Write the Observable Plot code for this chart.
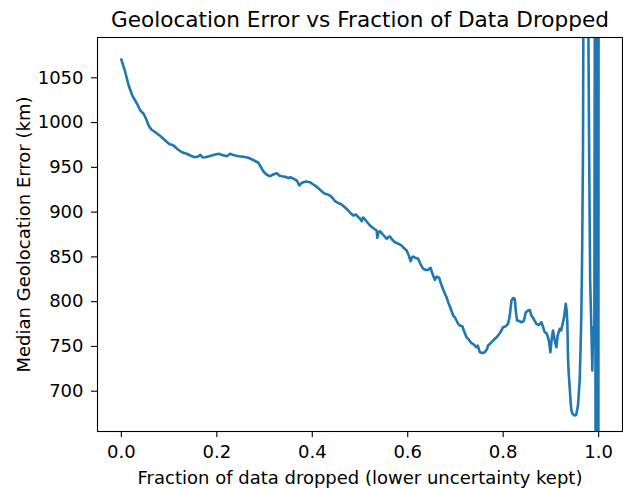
<!DOCTYPE html>
<html>
<head>
<meta charset="utf-8">
<script src="https://cdn.jsdelivr.net/npm/d3@7"></script>
<script src="https://cdn.jsdelivr.net/npm/@observablehq/plot@0.6"></script>
<style>
  body { margin: 0; background: #fff; }
  #chart svg { display: block; }
</style>
</head>
<body>
<div id="chart"></div>
<script>
const titleText = "Geolocation Error vs Fraction of Data Dropped";
const xLabel = "Fraction of data dropped (lower uncertainty kept)";
const yLabel = "Median Geolocation Error (km)";
const xTicks = [0, 0.2, 0.4, 0.6, 0.8, 1.0];
const yTicks = [700, 750, 800, 850, 900, 950, 1000, 1050];

const fraction = [
  0, 0.0073, 0.0153, 0.023, 0.0328, 0.0397, 0.0467, 0.0523, 0.0571, 0.0628,
  0.0711, 0.0816, 0.092, 0.1004, 0.1094, 0.1172, 0.127, 0.1381, 0.1464, 0.1548,
  0.1611, 0.1653, 0.1705, 0.1757, 0.1862, 0.1946, 0.2036, 0.2113, 0.2211, 0.228,
  0.2364, 0.2454, 0.2552, 0.2663, 0.2762, 0.2872, 0.2929, 0.2977, 0.3054, 0.3117,
  0.318, 0.3257, 0.3305, 0.3362, 0.3431, 0.35, 0.3536, 0.3598, 0.3676, 0.373,
  0.3766, 0.3814, 0.387, 0.3954, 0.4006, 0.4059, 0.4111, 0.4163, 0.4215, 0.4268,
  0.432, 0.4372, 0.4425, 0.4477, 0.454, 0.4617, 0.4686, 0.4755, 0.4812, 0.486,
  0.4916, 0.4964, 0.5, 0.5036, 0.5063, 0.5105, 0.5157, 0.5209, 0.5272, 0.5349,
  0.5362, 0.5387, 0.5418, 0.5481, 0.5559, 0.5596, 0.5628, 0.568, 0.5732, 0.5795,
  0.5872, 0.592, 0.5977, 0.6014, 0.606, 0.6088, 0.6115, 0.6172, 0.622, 0.6266,
  0.6324, 0.6381, 0.6429, 0.6479, 0.6517, 0.6569, 0.6611, 0.6659, 0.6695, 0.6743,
  0.6778, 0.6814, 0.6847, 0.6883, 0.6952, 0.6987, 0.7056, 0.7092, 0.7148, 0.716,
  0.7232, 0.7265, 0.7337, 0.737, 0.7441, 0.7469, 0.751, 0.7563, 0.7615, 0.7657,
  0.7684, 0.773, 0.7789, 0.7845, 0.7893, 0.7939, 0.7998, 0.8044, 0.8103, 0.8138,
  0.8174, 0.8211, 0.8243, 0.8264, 0.8291, 0.8337, 0.8383, 0.8431, 0.8473, 0.8521,
  0.8556, 0.8592, 0.864, 0.8697, 0.8745, 0.8801, 0.8839, 0.887, 0.8912, 0.8939,
  0.8964, 0.8989, 0.9017, 0.9044, 0.9079, 0.9115, 0.9142, 0.9184, 0.9215, 0.9253,
  0.9278, 0.931, 0.933, 0.9345, 0.9358, 0.9372, 0.9393, 0.9414, 0.9429, 0.9456,
  0.9498, 0.9529, 0.9567, 0.9582, 0.9603, 0.9623, 0.9638, 0.9655, 0.9672, 0.9685,
  0.9700, 0.9780, 0.9801, 0.9822, 0.9847, 0.9868, 0.988, 0.9895, 0.991, 0.9925,
  0.9937, 0.9947, 0.9957, 0.9967, 0.9977, 0.9987, 0.9994, 1.0
];
const medianError = [
  1070.4, 1058, 1041.4, 1030.2, 1021, 1013.5, 1009.8, 1003.4, 996.7, 992.3,
  989.2, 985, 980, 976, 974.4, 970.5, 966.9, 964.9, 962.7, 961.3,
  962.1, 964, 961, 961.3, 962.7, 964, 965.1, 963.8, 962.4, 965.1,
  963.4, 962.4, 961.8, 960.7, 958.2, 955.1, 949.8, 945.3, 941.4, 940.1,
  942, 943.5, 940.9, 940.1, 939.5, 937.9, 939, 937.5, 935.3, 929.7,
  932, 933.4, 934.2, 933.4, 931.4, 929.7, 927.5, 924.9, 922.5, 920.4,
  919.9, 918.5, 915.8, 912.2, 910.2, 908.5, 905.1, 901.8, 898.4, 896.2,
  897.3, 894.3, 892.9, 889.8, 894, 891.8, 888.4, 885, 882.3, 879.5,
  871.3, 877.2, 878.7, 875, 870.2, 872.2, 872.8, 868.9, 866.4, 865,
  862.7, 859.9, 857.1, 852.7, 845.2, 849.3, 850.4, 848.7, 847.9, 842,
  836.7, 835.3, 835.6, 837.8, 831.4, 824.4, 828.1, 826.6, 820.3, 813.6,
  809.1, 805, 799.4, 794.6, 784.5, 782.6, 775.3, 773.3, 772.2, 769.7,
  760.3, 758.5, 753.6, 752.9, 749.1, 751, 743.5, 742.7, 743.5, 746.5,
  751, 753.3, 756.6, 759.4, 762.2, 765.5, 771.5, 772.2, 775.3, 784.5,
  801.3, 804.1, 803.2, 790, 778.9, 778.4, 777, 778.4, 787.9, 790.1,
  790.7, 784.5, 780.6, 775.3, 773.9, 777, 771.1, 765.9, 764.4, 760.3,
  754.4, 743.5, 758.8, 767.8, 756.6, 749.1, 762.2, 769.7, 767.8, 777,
  783.4, 797.6, 790.1, 775.3, 738, 720.9, 704.5, 687.4, 678.4, 674.5,
  672.9, 673.4, 684, 695.2, 712, 751, 786.4, 857.1, 968.8, 1200,
  1150, 1150, 968.8, 823.8, 771.5, 723.1, 756.6, 771.5, 760, 1300,
  550, 1300, 550, 1300, 550, 1300, 550, 1300
];

const data = fraction.map((f, i) => ({f, e: medianError[i]}));
const font = "DejaVu Sans, sans-serif";

const chart = Plot.plot({
  width: 623,
  height: 489,
  marginLeft: 97,
  marginRight: 1,
  marginTop: 37,
  marginBottom: 58,
  style: {fontFamily: font, fontSize: "18px", color: "black", background: "white"},
  x: {domain: [-0.05, 1.05], label: null},
  y: {domain: [655, 1095], label: null},
  marks: [
    Plot.line(data, {x: "f", y: "e", stroke: "#1f77b4", strokeWidth: 2.6, clip: true, strokeLinejoin: "round", strokeLinecap: "square"}),
    Plot.frame({stroke: "black", strokeWidth: 1.1}),
    Plot.axisX({ticks: xTicks, tickFormat: d3.format(".1f"), tickSize: 6, tickPadding: 8, fontSize: 18, label: null, stroke: "black", strokeWidth: 1.1}),
    Plot.axisY({ticks: yTicks, tickFormat: d3.format("d"), tickSize: 6, tickPadding: 8, fontSize: 18, label: null, stroke: "black", strokeWidth: 1.1}),
    Plot.text([titleText], {frameAnchor: "top", dy: -17.5, textAnchor: "middle", lineAnchor: "middle", fontSize: 21.6, fill: "black"}),
    Plot.text([xLabel], {frameAnchor: "bottom", dy: 46.5, textAnchor: "middle", lineAnchor: "middle", fontSize: 18, fill: "black"}),
    Plot.text([yLabel], {frameAnchor: "left", dx: -73, rotate: -90, textAnchor: "middle", lineAnchor: "middle", fontSize: 18, fill: "black"})
  ]
});
document.getElementById("chart").appendChild(chart);
</script>
</body>
</html>
